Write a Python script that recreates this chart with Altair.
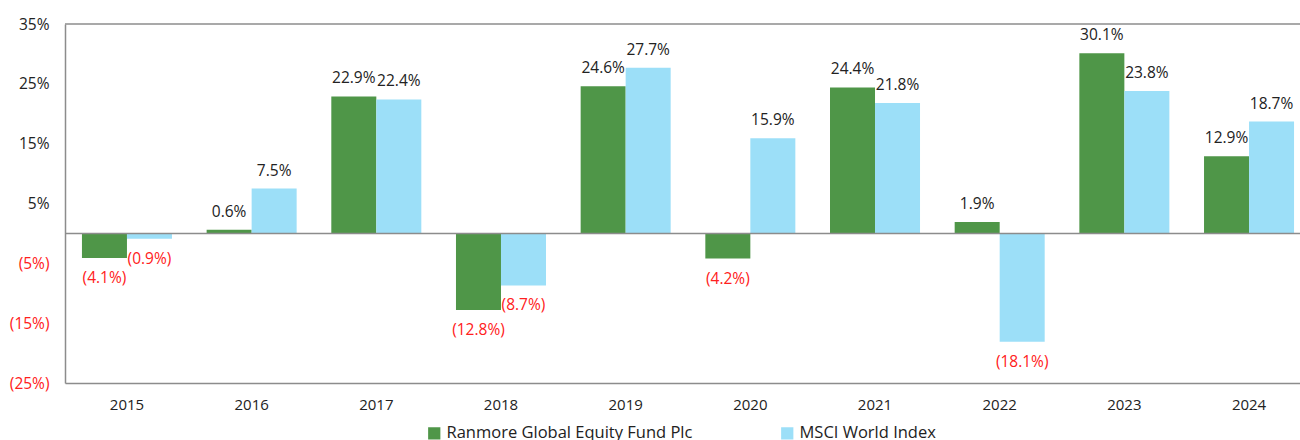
import altair as alt
import pandas as pd

years = ["2015", "2016", "2017", "2018", "2019", "2020", "2021", "2022", "2023", "2024"]
fund = [-4.1, 0.6, 22.9, -12.8, 24.6, -4.2, 24.4, 1.9, 30.1, 12.9]
msci = [-0.9, 7.5, 22.4, -8.7, 27.7, 15.9, 21.8, -18.1, 23.8, 18.7]
series = ["Ranmore Global Equity Fund Plc", "MSCI World Index"]
colors = ["#4f9648", "#9cdff8"]
y_ticks = [35, 25, 15, 5, -5, -15, -25]

rows = []
for i, y in enumerate(years):
    rows.append({"year": y, "series": series[0], "value": fund[i], "order": 0})
    rows.append({"year": y, "series": series[1], "value": msci[i], "order": 1})
df = pd.DataFrame(rows)
df["label"] = df["value"].apply(lambda v: f"({abs(v):.1f}%)" if v < 0 else f"{v:.1f}%")

FONT = "Open Sans"

x = alt.X("year:N", sort=years, title=None,
          scale=alt.Scale(paddingInner=0.278, paddingOuter=0.136, range=[0, 1246]),
          axis=alt.Axis(labelAngle=0, ticks=False, labelPadding=14, labelFontSize=15,
                        labelColor="#222222", domainColor="#8c8c8c", domainWidth=1.5,
                        labelFont=FONT))
y_scale = alt.Scale(domain=[-25, 35], nice=False, zero=False)
xo = alt.XOffset("series:N", sort=series, scale=alt.Scale(paddingInner=0, paddingOuter=0))

bars = alt.Chart(df).mark_bar().encode(
    x=x,
    xOffset=xo,
    y=alt.Y("value:Q", scale=y_scale, title=None,
            axis=alt.Axis(values=y_ticks, grid=False, ticks=False, labelPadding=16,
                          labelFontSize=15.5, labelFont=FONT,
                          labelExpr="datum.value < 0 ? '(' + abs(datum.value) + '%)' : datum.value + '%'",
                          labelColor={"condition": {"test": "datum.value < 0", "value": "#ff2020"}, "value": "#222222"},
                          domainColor="#8c8c8c", domainWidth=1.5)),
    color=alt.Color("series:N", sort=series,
                    scale=alt.Scale(domain=series, range=colors),
                    legend=alt.Legend(title=None, orient="none", legendX=361, legendY=401,
                                      direction="horizontal", symbolType="square",
                                      symbolSize=150, symbolStrokeWidth=0, labelFontSize=16.5,
                                      labelFont=FONT, labelColor="#222222", labelLimit=0,
                                      labelOffset=4,
                                      columnPadding=86, padding=0, symbolOpacity=1)),
)

pos = alt.Chart(df).transform_filter("datum.value >= 0").mark_text(
    baseline="middle", dy=-18, fontSize=15.5, font=FONT, color="#222222"
).encode(x=x, xOffset=xo, y=alt.Y("value:Q", scale=y_scale), text="label:N")

neg = alt.Chart(df).transform_filter("datum.value < 0").mark_text(
    baseline="middle", dy=20, fontSize=15.5, font=FONT, color="#ff2020"
).encode(x=x, xOffset=xo, y=alt.Y("value:Q", scale=y_scale), text="label:N")

zero = alt.Chart(pd.DataFrame({"v": [0]})).mark_rule(color="#8c8c8c", strokeWidth=1.5).encode(
    y=alt.Y("v:Q", scale=y_scale)
)
top = alt.Chart(pd.DataFrame({"v": [35]})).mark_rule(color="#8c8c8c", strokeWidth=1.5).encode(
    y=alt.Y("v:Q", scale=y_scale)
)

chart = alt.layer(bars, zero, top, pos, neg).properties(
    width=1235, height=359,
    autosize=alt.AutoSizeParams(type="none"),
    padding={"left": 65, "top": 24, "right": 0, "bottom": 57},
).configure_view(stroke=None)

chart.save("out.html", embed_options={"renderer": "svg", "actions": False})
